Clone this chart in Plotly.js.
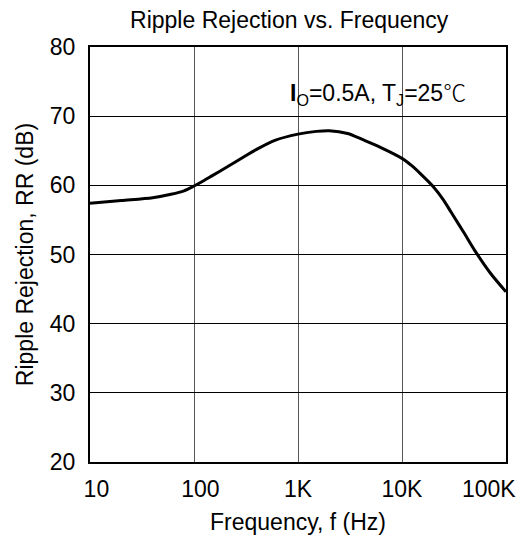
<!DOCTYPE html>
<html>
<head>
<meta charset="utf-8">
<script src="https://cdn.plot.ly/plotly-3.0.1.min.js"></script>
<style>html,body{margin:0;padding:0;background:#fff;}#chart{width:523px;height:541px;}</style>
</head>
<body>
<div id="chart"></div>
<script>
// Frequency (Hz) and ripple rejection (dB)
const freqHz = [10, 20, 40, 60, 80, 100, 125, 150, 200, 300, 400, 600, 1000, 1500, 2000, 3000, 4200, 6200, 10000, 12500, 15000, 20000, 25000, 30000, 40000, 50000, 70000, 100000];
const rrDb   = [57.4, 57.8, 58.2, 58.7, 59.2, 59.9, 60.7, 61.4, 62.5, 64.1, 65.2, 66.5, 67.4, 67.8, 67.9, 67.5, 66.6, 65.5, 63.9, 62.8, 61.7, 59.8, 57.9, 56.0, 53.0, 50.6, 47.4, 44.6];
const xTickVals = [10, 100, 1000, 10000, 100000];
const xTickText = ["10", "100", "1K", "10K", "100K"];
const yTickVals = [20, 30, 40, 50, 60, 70, 80];

const fontFam = "Arial, 'Liberation Sans', 'Noto Sans CJK SC', sans-serif";
const fs = 23;

// First two labels sit slightly right of their ticks in the reference; the last one is pulled inside the frame
const shownTickText = xTickText.map((t, i) => i < 2 ? "&nbsp;&nbsp;" + t : (i === xTickText.length - 1 ? "" : t));

const trace = {
  x: freqHz, y: rrDb, type: "scatter", mode: "lines",
  line: {color: "#000", width: 3, shape: "spline", smoothing: 0.8},
  hoverinfo: "skip"
};

const layout = {
  width: 523, height: 541,
  margin: {l: 90, r: 17, t: 47, b: 79},
  paper_bgcolor: "#fff", plot_bgcolor: "#fff",
  showlegend: false,
  font: {family: fontFam, color: "#000", size: fs},
  title: {text: "Ripple Rejection vs. Frequency", x: 0.553, xanchor: "center", y: 0.964, yanchor: "middle", font: {size: fs, family: fontFam, color: "#000"}},
  xaxis: {
    type: "log", range: [1, 5],
    tickvals: xTickVals, ticktext: shownTickText,
    showgrid: true, gridcolor: "#555", gridwidth: 1,
    showline: true, linecolor: "#000", linewidth: 2, mirror: true,
    ticks: "outside", ticklen: 5, tickcolor: "rgba(0,0,0,0)", zeroline: false,
    tickfont: {size: fs, family: fontFam, color: "#000"},
    title: {text: "Frequency, f (Hz)", font: {size: fs, family: fontFam, color: "#000"}, standoff: 13}
  },
  yaxis: {
    range: [20, 80], tickvals: yTickVals,
    showgrid: true, gridcolor: "#000", gridwidth: 1,
    showline: true, linecolor: "#000", linewidth: 2, mirror: true,
    ticks: "outside", ticklen: 8, tickcolor: "rgba(0,0,0,0)", zeroline: false,
    tickfont: {size: fs, family: fontFam, color: "#000"},
    title: {text: "Ripple Rejection, RR (dB)", font: {size: fs, family: fontFam, color: "#000"}, standoff: 10}
  },
  annotations: [{
    xref: "paper", yref: "paper", x: 0.693, y: 0.893, xanchor: "center", yanchor: "middle",
    text: "<b>I</b><sub>O</sub>=0.5A, T<sub>J</sub>=25<span style=\"font-family:'Noto Sans CJK SC';font-weight:300\">℃</span>", showarrow: false,
    font: {size: fs, family: fontFam, color: "#000"}
  }, {
    xref: "x", yref: "paper", x: Math.log10(xTickVals[xTickVals.length - 1]), y: 0, yshift: -12,
    xanchor: "right", yanchor: "top", xshift: 12,
    text: xTickText[xTickText.length - 1], showarrow: false,
    font: {size: fs, family: fontFam, color: "#000"}
  }]
};

Plotly.newPlot("chart", [trace], layout, {staticPlot: true, displayModeBar: false});
</script>
</body>
</html>
